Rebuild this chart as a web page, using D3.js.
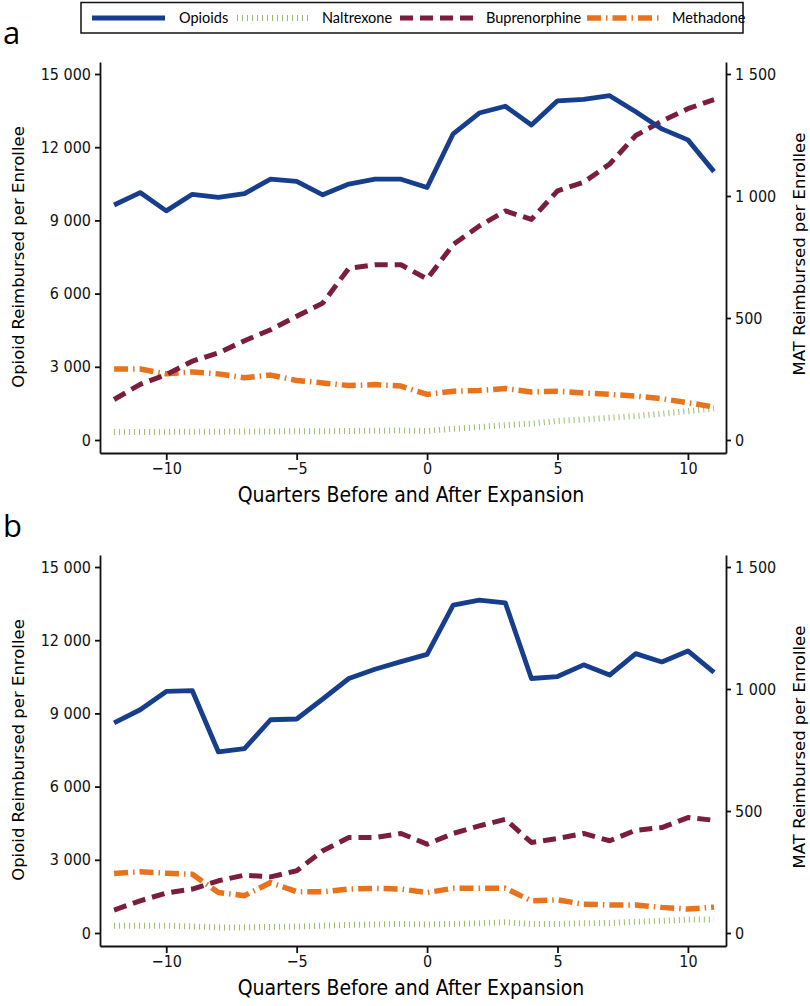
<!DOCTYPE html>
<html>
<head>
<meta charset="utf-8">
<script src="https://cdn.jsdelivr.net/npm/d3@7"></script>
<style>
  body { margin: 0; background: #fff; }
  svg { display: block; }
  .tick text { font-family: "Liberation Sans Narrow", "DejaVu Sans Condensed", sans-serif; font-size: 16px; fill: #111; }
  .domain, .tick line { stroke: #111; stroke-width: 1.8; }
</style>
</head>
<body>
<svg width="810" height="1006"></svg>
<script>
// quarters relative to the expansion
const quarters = [-12, -11, -10, -9, -8, -7, -6, -5, -4, -3, -2, -1, 0, 1, 2, 3, 4, 5, 6, 7, 8, 9, 10, 11];

// panel a
const opioidsA = [9630, 10140, 9390, 10070, 9940, 10100, 10690, 10600, 10050, 10490, 10690, 10690, 10350,
                  12550, 13400, 13680, 12910, 13900, 13960, 14110, 13450, 12750, 12300, 11000];
const naltrexoneA = [33, 33, 33, 34, 34, 35, 35, 36, 36, 37, 38, 39, 37,
                     46, 53, 61, 67, 78, 84, 91, 98, 108, 118, 129];
const buprenorphineA = [166, 228, 268, 323, 357, 407, 452, 507, 561, 704, 718, 718, 660,
                        801, 877, 939, 904, 1021, 1056, 1131, 1248, 1307, 1358, 1395];
const methadoneA = [291, 291, 271, 279, 271, 255, 266, 244, 234, 223, 227, 221, 187,
                    200, 203, 211, 197, 200, 193, 187, 180, 169, 153, 135];

// panel b
const opioidsB = [8610, 9150, 9900, 9930, 7420, 7560, 8740, 8770, 9590, 10430, 10810, 11120, 11420,
                  13440, 13640, 13530, 10430, 10510, 10990, 10570, 11450, 11110, 11560, 10680];
const naltrexoneB = [30, 30, 30, 27, 23, 23, 25, 26, 30, 33, 35, 37, 35,
                     37, 40, 44, 37, 37, 40, 41, 46, 50, 55, 55];
const buprenorphineB = [94, 132, 164, 180, 214, 237, 230, 255, 337, 391, 391, 408, 364,
                        408, 439, 466, 371, 387, 408, 378, 421, 432, 473, 462];
const methadoneB = [244, 251, 245, 241, 166, 153, 207, 169, 169, 180, 183, 180, 166,
                    183, 183, 183, 132, 136, 118, 115, 115, 105, 98, 106];

const leftTicks = [0, 3000, 6000, 9000, 12000, 15000];
const leftTickLabels = ["0", "3 000", "6 000", "9 000", "12 000", "15 000"];
const rightTicks = [0, 500, 1000, 1500];
const rightTickLabels = ["0", "500", "1 000", "1 500"];
const xTicks = [-10, -5, 0, 5, 10];
const xTickLabels = ["\u221210", "\u22125", "0", "5", "10"];

const seriesNames = ["Opioids", "Naltrexone", "Buprenorphine", "Methadone"];

const styles = {
  Opioids:       { color: "#173e8c", width: 4.8, dash: null },
  Naltrexone:    { color: "#97bd68", width: 6,   dash: "1,4" },
  Buprenorphine: { color: "#7b1e3e", width: 5,   dash: "13,7" },
  Methadone:     { color: "#e8731c", width: 5.5, dash: "14,5,1.5,5" }
};

const svg = d3.select("svg");

const x = d3.scaleLinear().domain([-12.54, 11.46]).range([100, 726]);
const yLeft = d3.scaleLinear().domain([-533, 15492]).range([453, 62]);
const yRight = d3.scaleLinear().domain([-53.3, 1549.2]).range([453, 62]);

function drawPanel(top, label, opi, nal, bup, met) {
  const g = svg.append("g").attr("transform", `translate(0,${top})`);

  g.append("text").text(label)
    .attr("x", 3).attr("y", 44)
    .style("font-family", "'Open Sans', sans-serif").style("font-size", "31px");

  g.append("g").attr("transform", "translate(100,0)")
    .call(d3.axisLeft(yLeft).tickValues(leftTicks).tickSize(5).tickSizeOuter(0).tickPadding(4)
      .tickFormat((d, i) => leftTickLabels[i]));

  g.append("g").attr("transform", "translate(726,0)")
    .call(d3.axisRight(yRight).tickValues(rightTicks).tickSize(5).tickSizeOuter(0).tickPadding(4)
      .tickFormat((d, i) => rightTickLabels[i]));

  g.append("g").attr("transform", "translate(0,453)")
    .call(d3.axisBottom(x).tickValues(xTicks).tickSize(7).tickSizeOuter(0).tickPadding(3)
      .tickFormat((d, i) => xTickLabels[i]));

  g.append("text").text("Opioid Reimbursed per Enrollee")
    .attr("transform", "translate(24,257) rotate(-90)")
    .attr("text-anchor", "middle")
    .style("font-family", "'DejaVu Sans', sans-serif").style("font-size", "16.5px");

  g.append("text").text("MAT Reimbursed per Enrollee")
    .attr("transform", "translate(805,254) rotate(-90)")
    .attr("text-anchor", "middle")
    .style("font-family", "'DejaVu Sans', sans-serif").style("font-size", "16.5px");

  g.append("text").text("Quarters Before and After Expansion")
    .attr("x", 411).attr("y", 502)
    .attr("text-anchor", "middle")
    .style("font-family", "'Liberation Sans Narrow', 'DejaVu Sans Condensed', sans-serif")
    .style("font-size", "21px");

  const lineL = d3.line().x((d, i) => x(quarters[i])).y(d => yLeft(d));
  const lineR = d3.line().x((d, i) => x(quarters[i])).y(d => yRight(d));

  const series = [
    { name: "Naltrexone", values: nal, line: lineR },
    { name: "Methadone", values: met, line: lineR },
    { name: "Buprenorphine", values: bup, line: lineR },
    { name: "Opioids", values: opi, line: lineL }
  ];

  g.selectAll("path.series").data(series).enter().append("path")
    .attr("class", "series")
    .attr("d", s => s.line(s.values))
    .attr("fill", "none")
    .attr("stroke", s => styles[s.name].color)
    .attr("stroke-width", s => styles[s.name].width)
    .attr("stroke-dasharray", s => styles[s.name].dash)
    .attr("stroke-linejoin", "round");
}

drawPanel(0, "a", opioidsA, naltrexoneA, buprenorphineA, methadoneA);
drawPanel(493, "b", opioidsB, naltrexoneB, buprenorphineB, methadoneB);

// legend
const legend = svg.append("g");
legend.append("rect")
  .attr("x", 81).attr("y", 2.5).attr("width", 662).attr("height", 30.5)
  .attr("fill", "#fff").attr("stroke", "#111").attr("stroke-width", 1.5);

const legendLineX = [92, 237, 400, 587];
const legendTextX = [179, 322, 486, 672];
legend.selectAll("g.item").data(seriesNames).enter().append("g")
  .attr("class", "item")
  .each(function(name, i) {
    const it = d3.select(this);
    it.append("line")
      .attr("x1", legendLineX[i]).attr("x2", legendLineX[i] + 73)
      .attr("y1", 18).attr("y2", 18)
      .attr("stroke", styles[name].color)
      .attr("stroke-width", styles[name].width)
      .attr("stroke-dasharray", styles[name].dash);
    it.append("text").text(name)
      .attr("x", legendTextX[i]).attr("y", 23)
      .style("font-family", "Lato, 'Open Sans', sans-serif").style("font-size", "14.5px");
  });
</script>
</body>
</html>
